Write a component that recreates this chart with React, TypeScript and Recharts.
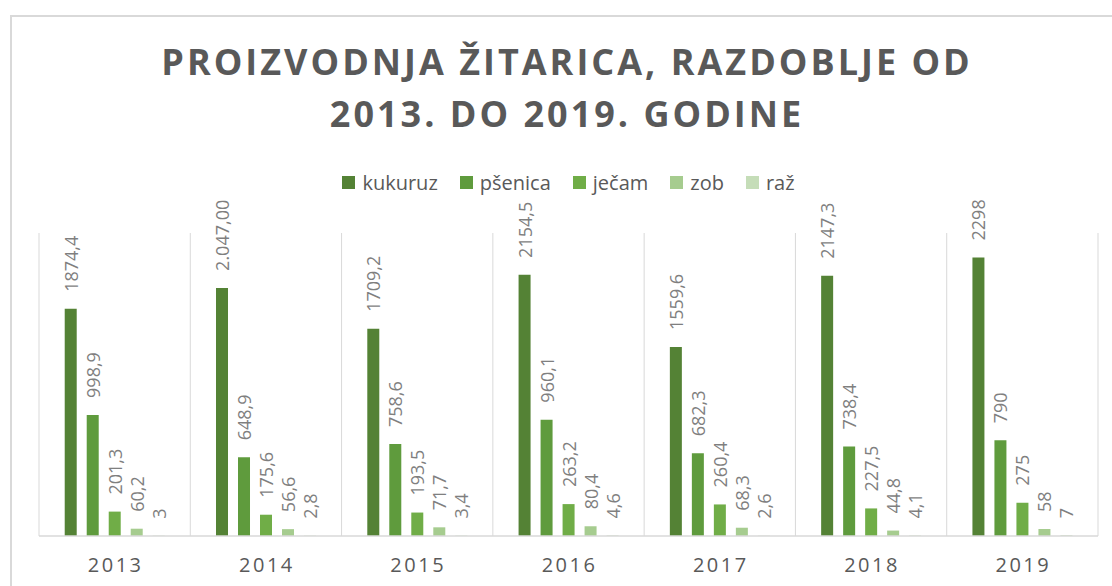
import { BarChart, Bar, XAxis, YAxis, CartesianGrid, Legend, LabelList } from "recharts";

const years = ["2013", "2014", "2015", "2016", "2017", "2018", "2019"];
const kukuruz = [1874.4, 2047.0, 1709.2, 2154.5, 1559.6, 2147.3, 2298];
const kukuruzLabels = ["1874,4", "2.047,00", "1709,2", "2154,5", "1559,6", "2147,3", "2298"];
const psenica = [998.9, 648.9, 758.6, 960.1, 682.3, 738.4, 790];
const jecam = [201.3, 175.6, 193.5, 263.2, 260.4, 227.5, 275];
const zob = [60.2, 56.6, 71.7, 80.4, 68.3, 44.8, 58];
const raz = [3, 2.8, 3.4, 4.6, 2.6, 4.1, 7];

const series = [
  { key: "kukuruz", name: "kukuruz", color: "#548235" },
  { key: "psenica", name: "pšenica", color: "#5f9b3d" },
  { key: "jecam", name: "ječam", color: "#70ad47" },
  { key: "zob", name: "zob", color: "#a6cc8f" },
  { key: "raz", name: "raž", color: "#c5ddb8" },
];

// decimal comma, as in the source
const fmt = (v: number) => String(v).replace(".", ",");

const data = years.map((year, i) => ({
  year,
  kukuruz: kukuruz[i],
  psenica: psenica[i],
  jecam: jecam[i],
  zob: zob[i],
  raz: raz[i],
  kukuruzLabel: kukuruzLabels[i],
  psenicaLabel: fmt(psenica[i]),
  jecamLabel: fmt(jecam[i]),
  zobLabel: fmt(zob[i]),
  razLabel: fmt(raz[i]),
}));

const FONT = "'Open Sans', sans-serif";
const GRID = "#d9d9d9";

const renderLabel = (props: any) => {
  const { x, y, width, value } = props;
  const cx = Number(x) + Number(width) / 2;
  const ty = Number(y) - 17;
  return (
    <text
      x={cx}
      y={ty}
      transform={`rotate(-90, ${cx}, ${ty})`}
      textAnchor="start"
      dominantBaseline="central"
      fill="#7f7f7f"
      fontSize={18}
      fontFamily={FONT}
    >
      {value}
    </text>
  );
};

const renderTick = (props: any) => {
  const { x, y, payload } = props;
  return (
    <text x={x + 1} y={y + 36} textAnchor="middle" fill="#595959" fontSize={20} fontFamily={FONT} letterSpacing={2.5}>
      {payload.value}
    </text>
  );
};

const renderLegend = () => (
  <div style={{ display: "flex", justifyContent: "center", fontFamily: FONT, fontSize: 20, color: "#595959" }}>
    {series.map((s, i) => (
      <div key={s.key} style={{ display: "flex", alignItems: "center", marginRight: i < series.length - 1 ? 22 : 0 }}>
        <span style={{ width: 13, height: 13, background: s.color, display: "inline-block", marginRight: 7 }} />
        <span>{s.name}</span>
      </div>
    ))}
  </div>
);

export default function App() {
  return (
    <div style={{ position: "absolute", left: 0, top: 0, width: 1112, height: 586, overflow: "hidden", background: "#fff" }}>
      <div
        style={{
          position: "absolute",
          left: 10,
          top: 15,
          width: 1130,
          height: 600,
          border: `2px solid ${GRID}`,
          boxSizing: "border-box",
        }}
      />
      <div
        style={{
          position: "absolute",
          left: 10,
          top: 36,
          width: 1114,
          textAlign: "center",
          fontFamily: FONT,
          fontWeight: 700,
          fontSize: 36,
          lineHeight: "52px",
          letterSpacing: 3,
          color: "#595959",
        }}
      >
        PROIZVODNJA ŽITARICA, RAZDOBLJE OD
        <br />
        2013. DO 2019. GODINE
      </div>
      <div style={{ position: "absolute", left: 0, top: 0 }}>
        <BarChart
          width={1112}
          height={586}
          data={data}
          margin={{ top: 233, right: 14, bottom: 20, left: 39 }}
          barCategoryGap="17%"
          barGap={10}
        >
          <CartesianGrid
            horizontal={false}
            stroke={GRID}
            verticalCoordinatesGenerator={({ offset }: any) => {
              const step = offset.width / years.length;
              return [...years.map((_, i) => offset.left + i * step), offset.left + offset.width];
            }}
          />
          <XAxis
            dataKey="year"
            axisLine={{ stroke: GRID, strokeWidth: 1.5 }}
            tickLine={false}
            tickSize={0}
            tickMargin={0}
            height={30}
            tick={renderTick}
          />
          <YAxis hide domain={[0, 2500]} />
          <Legend
            layout="horizontal"
            align="center"
            verticalAlign="middle"
            wrapperStyle={{ top: 169 }}
            content={renderLegend}
          />
          {series.map((s) => (
            <Bar key={s.key} dataKey={s.key} name={s.name} fill={s.color} isAnimationActive={false}>
              <LabelList dataKey={`${s.key}Label`} content={renderLabel} />
            </Bar>
          ))}
        </BarChart>
      </div>
    </div>
  );
}
